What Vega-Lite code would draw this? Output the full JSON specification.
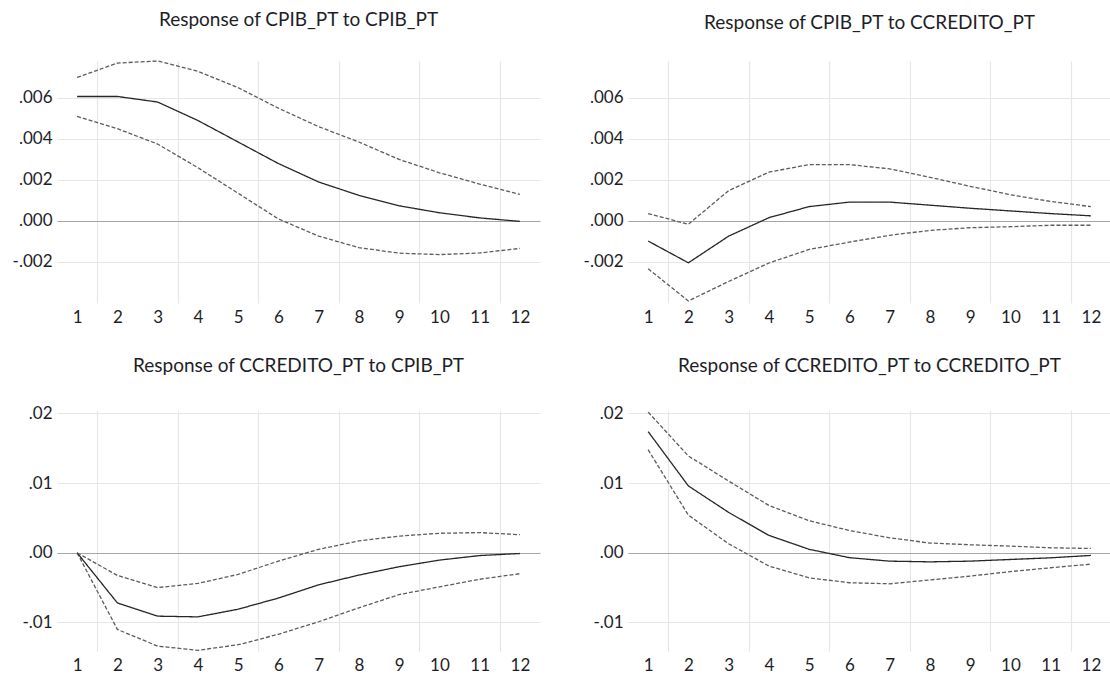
{
  "$schema": "https://vega.github.io/schema/vega-lite/v6.json",
  "background": "white",
  "padding": {"left": 12, "top": 11, "right": 0, "bottom": 0},
  "config": {
    "view": {"stroke": null},
    "font": "Lato",
    "axis": {
      "labelFont": "Lato",
      "labelFontSize": 17,
      "labelColor": "#1e1e28",
      "gridWidth": 1.2,
      "ticks": false,
      "domain": false,
      "title": null
    },
    "title": {
      "font": "Lato",
      "fontSize": 19,
      "fontWeight": "normal",
      "color": "#1e1e28",
      "anchor": "middle",
      "frame": "group",
      "baseline": "alphabetic",
      "offset": 28
    },
    "line": {"strokeWidth": 1.3}
  },
  "datasets": {
    "irf": [
      {"panel": "A", "h": 1, "lo": 0.0051, "mid": 0.00607, "hi": 0.0070},
      {"panel": "A", "h": 2, "lo": 0.0045, "mid": 0.00607, "hi": 0.0077},
      {"panel": "A", "h": 3, "lo": 0.00375, "mid": 0.0058, "hi": 0.0078},
      {"panel": "A", "h": 4, "lo": 0.0026, "mid": 0.0049, "hi": 0.0073},
      {"panel": "A", "h": 5, "lo": 0.00135, "mid": 0.00385, "hi": 0.0065},
      {"panel": "A", "h": 6, "lo": 0.0001, "mid": 0.0028, "hi": 0.0055},
      {"panel": "A", "h": 7, "lo": -0.00074, "mid": 0.0019, "hi": 0.0046},
      {"panel": "A", "h": 8, "lo": -0.0013, "mid": 0.00125, "hi": 0.00385},
      {"panel": "A", "h": 9, "lo": -0.00157, "mid": 0.00074, "hi": 0.0030},
      {"panel": "A", "h": 10, "lo": -0.00164, "mid": 0.0004, "hi": 0.00235},
      {"panel": "A", "h": 11, "lo": -0.00156, "mid": 0.00015, "hi": 0.0018},
      {"panel": "A", "h": 12, "lo": -0.00134, "mid": -0.00002, "hi": 0.0013},

      {"panel": "B", "h": 1, "lo": -0.00233, "mid": -0.00098, "hi": 0.00036},
      {"panel": "B", "h": 2, "lo": -0.0039, "mid": -0.00204, "hi": -0.00016},
      {"panel": "B", "h": 3, "lo": -0.00295, "mid": -0.00074, "hi": 0.00148},
      {"panel": "B", "h": 4, "lo": -0.00205, "mid": 0.00016, "hi": 0.00238},
      {"panel": "B", "h": 5, "lo": -0.00139, "mid": 0.0007, "hi": 0.00275},
      {"panel": "B", "h": 6, "lo": -0.00103, "mid": 0.00092, "hi": 0.00275},
      {"panel": "B", "h": 7, "lo": -0.0007, "mid": 0.00092, "hi": 0.00254},
      {"panel": "B", "h": 8, "lo": -0.00046, "mid": 0.00077, "hi": 0.00213},
      {"panel": "B", "h": 9, "lo": -0.00033, "mid": 0.00062, "hi": 0.00169},
      {"panel": "B", "h": 10, "lo": -0.00028, "mid": 0.00049, "hi": 0.00128},
      {"panel": "B", "h": 11, "lo": -0.00021, "mid": 0.00036, "hi": 0.00095},
      {"panel": "B", "h": 12, "lo": -0.00021, "mid": 0.00025, "hi": 0.0007},

      {"panel": "C", "h": 1, "lo": 0, "mid": 0, "hi": 0},
      {"panel": "C", "h": 2, "lo": -0.0110, "mid": -0.0072, "hi": -0.00325},
      {"panel": "C", "h": 3, "lo": -0.0134, "mid": -0.0091, "hi": -0.0050},
      {"panel": "C", "h": 4, "lo": -0.0140, "mid": -0.0092, "hi": -0.0044},
      {"panel": "C", "h": 5, "lo": -0.0132, "mid": -0.0081, "hi": -0.0031},
      {"panel": "C", "h": 6, "lo": -0.0117, "mid": -0.0065, "hi": -0.0012},
      {"panel": "C", "h": 7, "lo": -0.0099, "mid": -0.0046, "hi": 0.0005},
      {"panel": "C", "h": 8, "lo": -0.0079, "mid": -0.0032, "hi": 0.0017},
      {"panel": "C", "h": 9, "lo": -0.0060, "mid": -0.0020, "hi": 0.0024},
      {"panel": "C", "h": 10, "lo": -0.0049, "mid": -0.00105, "hi": 0.0028},
      {"panel": "C", "h": 11, "lo": -0.0038, "mid": -0.0004, "hi": 0.0029},
      {"panel": "C", "h": 12, "lo": -0.0030, "mid": -0.0001, "hi": 0.0026},

      {"panel": "D", "h": 1, "lo": 0.0148, "mid": 0.0174, "hi": 0.0202},
      {"panel": "D", "h": 2, "lo": 0.0054, "mid": 0.0096, "hi": 0.0139},
      {"panel": "D", "h": 3, "lo": 0.0013, "mid": 0.0058, "hi": 0.0103},
      {"panel": "D", "h": 4, "lo": -0.0019, "mid": 0.0025, "hi": 0.0068},
      {"panel": "D", "h": 5, "lo": -0.0036, "mid": 0.0005, "hi": 0.0046},
      {"panel": "D", "h": 6, "lo": -0.0043, "mid": -0.0007, "hi": 0.0032},
      {"panel": "D", "h": 7, "lo": -0.00445, "mid": -0.0012, "hi": 0.00215},
      {"panel": "D", "h": 8, "lo": -0.0039, "mid": -0.0013, "hi": 0.0014},
      {"panel": "D", "h": 9, "lo": -0.00335, "mid": -0.0012, "hi": 0.00115},
      {"panel": "D", "h": 10, "lo": -0.0027, "mid": -0.00096, "hi": 0.00096},
      {"panel": "D", "h": 11, "lo": -0.00215, "mid": -0.00072, "hi": 0.00072},
      {"panel": "D", "h": 12, "lo": -0.00163, "mid": -0.00038, "hi": 0.00062}
    ]
  },
  "data": {"name": "irf"},
  "columns": 2,
  "bounds": "flush",
  "spacing": {"row": 107, "column": 88},
  "concat": [
    {
      "title": "Response of CPIB_PT to CPIB_PT",
      "width": 483,
      "height": 242,
      "transform": [
        {"filter": "datum.panel === 'A'"},
        {"fold": ["lo", "mid", "hi"], "as": ["band", "value"]}
      ],
      "mark": {"type": "line"},
      "encoding": {
        "x": {
          "field": "h", "type": "quantitative",
          "scale": {"domain": [0.5, 12.5], "nice": false, "zero": false},
          "axis": {
            "values": [1, 1.5, 2, 3, 3.5, 4, 5, 5.5, 6, 7, 7.5, 8, 9, 9.5, 10, 11, 11.5, 12],
            "labelExpr": "datum.value % 1 === 0 ? '' + datum.value : ''",
            "gridColor": "#e6e6e6",
            "gridOpacity": {"condition": {"test": "datum.value % 1 !== 0", "value": 1}, "value": 0},
            "labelPadding": 6, "labelFlush": false, "labelOverlap": false
          }
        },
        "y": {
          "field": "value", "type": "quantitative",
          "scale": {"domain": [-0.004, 0.0078], "nice": false, "zero": false},
          "axis": {
            "values": [-0.002, 0, 0.002, 0.004, 0.006],
            "labelExpr": "replace(replace(format(datum.value, '.3f'), '0.', '.'), '\u2212', '-')",
            "gridColor": {"condition": {"test": "datum.value === 0", "value": "#a6a6a6"}, "value": "#e6e6e6"},
            "labelPadding": 5
          }
        },
        "detail": {"field": "band"},
        "color": {"field": "band", "scale": {"domain": ["mid", "lo", "hi"], "range": ["#262626", "#5c5c5c", "#5c5c5c"]}, "legend": null},
        "strokeDash": {"field": "band", "scale": {"domain": ["mid", "lo", "hi"], "range": [[1, 0], [4, 2], [4, 2]]}, "legend": null}
      }
    },
    {
      "title": "Response of CPIB_PT to CCREDITO_PT",
      "width": 483,
      "height": 242,
      "transform": [
        {"filter": "datum.panel === 'B'"},
        {"fold": ["lo", "mid", "hi"], "as": ["band", "value"]}
      ],
      "mark": {"type": "line"},
      "encoding": {
        "x": {
          "field": "h", "type": "quantitative",
          "scale": {"domain": [0.5, 12.5], "nice": false, "zero": false},
          "axis": {
            "values": [1, 1.5, 2, 3, 3.5, 4, 5, 5.5, 6, 7, 7.5, 8, 9, 9.5, 10, 11, 11.5, 12],
            "labelExpr": "datum.value % 1 === 0 ? '' + datum.value : ''",
            "gridColor": "#e6e6e6",
            "gridOpacity": {"condition": {"test": "datum.value % 1 !== 0", "value": 1}, "value": 0},
            "labelPadding": 6, "labelFlush": false, "labelOverlap": false
          }
        },
        "y": {
          "field": "value", "type": "quantitative",
          "scale": {"domain": [-0.004, 0.0078], "nice": false, "zero": false},
          "axis": {
            "values": [-0.002, 0, 0.002, 0.004, 0.006],
            "labelExpr": "replace(replace(format(datum.value, '.3f'), '0.', '.'), '\u2212', '-')",
            "gridColor": {"condition": {"test": "datum.value === 0", "value": "#a6a6a6"}, "value": "#e6e6e6"},
            "labelPadding": 5
          }
        },
        "detail": {"field": "band"},
        "color": {"field": "band", "scale": {"domain": ["mid", "lo", "hi"], "range": ["#262626", "#5c5c5c", "#5c5c5c"]}, "legend": null},
        "strokeDash": {"field": "band", "scale": {"domain": ["mid", "lo", "hi"], "range": [[1, 0], [4, 2], [4, 2]]}, "legend": null}
      }
    },
    {
      "title": "Response of CCREDITO_PT to CPIB_PT",
      "width": 483,
      "height": 241,
      "transform": [
        {"filter": "datum.panel === 'C'"},
        {"fold": ["lo", "mid", "hi"], "as": ["band", "value"]}
      ],
      "mark": {"type": "line"},
      "encoding": {
        "x": {
          "field": "h", "type": "quantitative",
          "scale": {"domain": [0.5, 12.5], "nice": false, "zero": false},
          "axis": {
            "values": [1, 1.5, 2, 3, 3.5, 4, 5, 5.5, 6, 7, 7.5, 8, 9, 9.5, 10, 11, 11.5, 12],
            "labelExpr": "datum.value % 1 === 0 ? '' + datum.value : ''",
            "gridColor": "#e6e6e6",
            "gridOpacity": {"condition": {"test": "datum.value % 1 !== 0", "value": 1}, "value": 0},
            "labelPadding": 6, "labelFlush": false, "labelOverlap": false
          }
        },
        "y": {
          "field": "value", "type": "quantitative",
          "scale": {"domain": [-0.0141, 0.0205], "nice": false, "zero": false},
          "axis": {
            "values": [-0.01, 0, 0.01, 0.02],
            "labelExpr": "replace(replace(format(datum.value, '.2f'), '0.', '.'), '\u2212', '-')",
            "gridColor": {"condition": {"test": "datum.value === 0", "value": "#a6a6a6"}, "value": "#e6e6e6"},
            "labelPadding": 5
          }
        },
        "detail": {"field": "band"},
        "color": {"field": "band", "scale": {"domain": ["mid", "lo", "hi"], "range": ["#262626", "#5c5c5c", "#5c5c5c"]}, "legend": null},
        "strokeDash": {"field": "band", "scale": {"domain": ["mid", "lo", "hi"], "range": [[1, 0], [4, 2], [4, 2]]}, "legend": null}
      }
    },
    {
      "title": "Response of CCREDITO_PT to CCREDITO_PT",
      "width": 483,
      "height": 241,
      "transform": [
        {"filter": "datum.panel === 'D'"},
        {"fold": ["lo", "mid", "hi"], "as": ["band", "value"]}
      ],
      "mark": {"type": "line"},
      "encoding": {
        "x": {
          "field": "h", "type": "quantitative",
          "scale": {"domain": [0.5, 12.5], "nice": false, "zero": false},
          "axis": {
            "values": [1, 1.5, 2, 3, 3.5, 4, 5, 5.5, 6, 7, 7.5, 8, 9, 9.5, 10, 11, 11.5, 12],
            "labelExpr": "datum.value % 1 === 0 ? '' + datum.value : ''",
            "gridColor": "#e6e6e6",
            "gridOpacity": {"condition": {"test": "datum.value % 1 !== 0", "value": 1}, "value": 0},
            "labelPadding": 6, "labelFlush": false, "labelOverlap": false
          }
        },
        "y": {
          "field": "value", "type": "quantitative",
          "scale": {"domain": [-0.0141, 0.0205], "nice": false, "zero": false},
          "axis": {
            "values": [-0.01, 0, 0.01, 0.02],
            "labelExpr": "replace(replace(format(datum.value, '.2f'), '0.', '.'), '\u2212', '-')",
            "gridColor": {"condition": {"test": "datum.value === 0", "value": "#a6a6a6"}, "value": "#e6e6e6"},
            "labelPadding": 5
          }
        },
        "detail": {"field": "band"},
        "color": {"field": "band", "scale": {"domain": ["mid", "lo", "hi"], "range": ["#262626", "#5c5c5c", "#5c5c5c"]}, "legend": null},
        "strokeDash": {"field": "band", "scale": {"domain": ["mid", "lo", "hi"], "range": [[1, 0], [4, 2], [4, 2]]}, "legend": null}
      }
    }
  ]
}
